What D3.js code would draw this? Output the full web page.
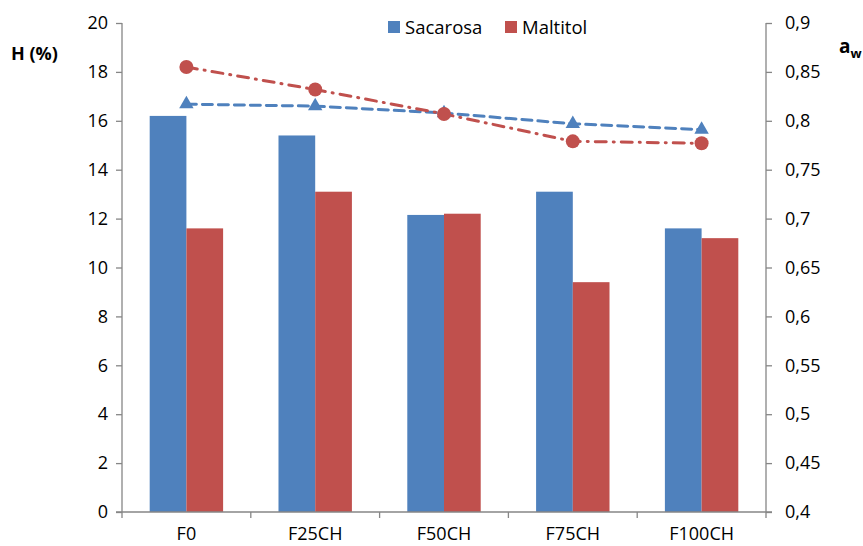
<!DOCTYPE html>
<html>
<head>
<meta charset="utf-8">
<script src="https://cdn.jsdelivr.net/npm/d3@7"></script>
<style>
  html, body { margin: 0; padding: 0; background: #fff; }
  svg { display: block; font-family: "Open Sans", "Noto Sans", sans-serif; }
</style>
</head>
<body>
<svg id="chart" width="863" height="546"></svg>
<script>
// Formulations on the x axis
const categories = ["F0", "F25CH", "F50CH", "F75CH", "F100CH"];
// Moisture H (%) per sweetener (bars, left axis)
const hSacarosa = [16.2, 15.4, 12.15, 13.1, 11.6];
const hMaltitol = [11.6, 13.1, 12.2, 9.4, 11.2];
// Water activity a_w per sweetener (lines, right axis)
const awSacarosa = [0.817, 0.815, 0.808, 0.797, 0.791];
const awMaltitol = [0.855, 0.832, 0.807, 0.779, 0.777];
// Tick values
const leftTicks = [0, 2, 4, 6, 8, 10, 12, 14, 16, 18, 20];
const rightTicks = [0.4, 0.45, 0.5, 0.55, 0.6, 0.65, 0.7, 0.75, 0.8, 0.85, 0.9];
const seriesNames = ["Sacarosa", "Maltitol"];

const BLUE = "#4F81BD", RED = "#C0504D", AXIS = "#868686";
const svg = d3.select("#chart");
const pl = 122, pr = 766, pt = 23, pb = 512;

const x = d3.scaleBand().domain(categories).range([pl, pr]).paddingInner(0.43).paddingOuter(0.215);
const xc = d3.scaleBand().domain(categories).range([pl, pr]);
const xs = d3.scaleBand().domain(seriesNames).range([0, x.bandwidth()]);
const yL = d3.scaleLinear().domain([0, 20]).range([pb, pt]);
const yR = d3.scaleLinear().domain([0.4, 0.9]).range([pb, pt]);

const fmt = d => String(d).replace(".", ",");

// Bars
const barData = categories.map((c, i) => ({ c, vals: [hSacarosa[i], hMaltitol[i]] }));
const gBars = svg.append("g");
gBars.selectAll("g").data(barData).enter().append("g")
  .attr("transform", d => `translate(${x(d.c)},0)`)
  .selectAll("rect").data(d => d.vals.map((v, j) => ({ v, s: seriesNames[j] }))).enter().append("rect")
  .attr("x", d => xs(d.s)).attr("width", xs.bandwidth())
  .attr("y", d => yL(d.v)).attr("height", d => yL(0) - yL(d.v))
  .attr("fill", d => d.s === "Sacarosa" ? BLUE : RED);

// Left axis
const gL = svg.append("g").attr("transform", `translate(${pl},0)`)
  .call(d3.axisLeft(yL).tickValues(leftTicks).tickSize(6).tickPadding(8).tickFormat(d => d));
// Right axis
const gR = svg.append("g").attr("transform", `translate(${pr},0)`)
  .call(d3.axisRight(yR).tickValues(rightTicks).tickSize(6).tickPadding(13).tickFormat(fmt));
// Bottom axis with ticks at category boundaries
const gB = svg.append("g").attr("transform", `translate(0,${pb})`)
  .call(d3.axisBottom(xc).tickSize(0).tickPadding(15));
const boundaries = d3.range(categories.length + 1).map(i => pl + i * xc.step());
gB.selectAll(".bnd").data(boundaries).enter().append("line").attr("class", "bnd")
  .attr("x1", d => d).attr("x2", d => d).attr("y1", 0).attr("y2", 6);

[gL, gR, gB].forEach(g => {
  g.select(".domain").attr("stroke", AXIS).attr("stroke-width", 1.3);
  g.selectAll("line").attr("stroke", AXIS).attr("stroke-width", 1.3);
  g.selectAll("text").attr("font-size", 18).attr("fill", "#000").attr("font-family", "'Open Sans', sans-serif");
});
gL.select(".domain").attr("d", `M0,${pt}V${pb}`);
gR.select(".domain").attr("d", `M0,${pt}V${pb}`);
gB.select(".domain").attr("d", `M${pl - 6},0H${pr + 6}`);

// Lines (right axis)
const cx = c => xc(c) + xc.bandwidth() / 2;
const line = d3.line().x(d => cx(d.c)).y(d => yR(d.v));
const sacPts = categories.map((c, i) => ({ c, v: awSacarosa[i] }));
const malPts = categories.map((c, i) => ({ c, v: awMaltitol[i] }));

svg.append("path").datum(sacPts).attr("d", line).attr("fill", "none")
  .attr("stroke", BLUE).attr("stroke-width", 3).attr("stroke-dasharray", "10,6").attr("stroke-linecap", "round");
svg.append("path").datum(malPts).attr("d", line).attr("fill", "none")
  .attr("stroke", RED).attr("stroke-width", 3).attr("stroke-dasharray", "11,7,1,7").attr("stroke-linecap", "round");

const tri = d3.symbol().type(d3.symbolTriangle).size(90);
svg.append("g").selectAll("path").data(sacPts).enter().append("path")
  .attr("d", tri).attr("transform", d => `translate(${cx(d.c)},${yR(d.v)})`).attr("fill", BLUE);
svg.append("g").selectAll("circle").data(malPts).enter().append("circle")
  .attr("cx", d => cx(d.c)).attr("cy", d => yR(d.v)).attr("r", 7).attr("fill", RED);

// Axis titles
svg.append("text").attr("x", 11).attr("y", 60).attr("font-weight", "bold").attr("font-size", 18)
  .text("H (%)");
const aw = svg.append("text").attr("x", 839).attr("y", 53).attr("font-weight", "bold").attr("font-size", 19);
aw.append("tspan").text("a");
aw.append("tspan").attr("font-size", 13).attr("dy", 5).text("w");

// Legend
const leg = svg.append("g").attr("transform", "translate(388,21)");
const legX = [0, 117];
seriesNames.forEach((n, i) => {
  const g = leg.append("g").attr("transform", `translate(${legX[i]},0)`);
  g.append("rect").attr("width", 12).attr("height", 12).attr("fill", i === 0 ? BLUE : RED);
  g.append("text").attr("x", 17).attr("y", 12.5).attr("font-size", 18.5).text(n);
});
</script>
</body>
</html>
